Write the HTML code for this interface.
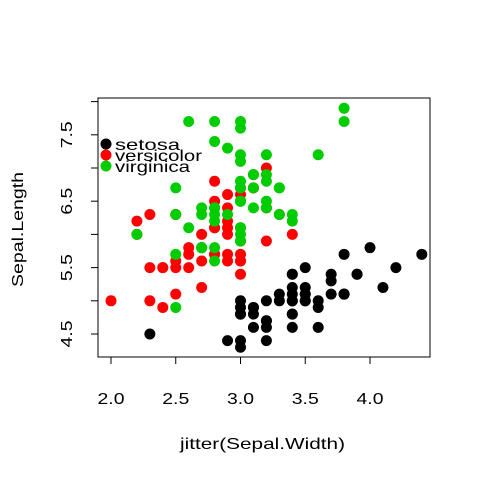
<!DOCTYPE html>
<html><head><meta charset="utf-8"><style>
body{margin:0;background:#fff}
svg text{font-family:"Liberation Sans",Arial,sans-serif;font-size:16px;fill:#000}
</style></head><body>
<svg width="480" height="480" id="chart">
<rect x="98" y="98" width="332" height="259" fill="none" stroke="#000" stroke-width="1"/>
<g id="axes"></g><g id="pts"></g>
<text x="180" y="449" textLength="165" lengthAdjust="spacingAndGlyphs">jitter(Sepal.Width)</text>
<text transform="translate(23,287) rotate(-90)" textLength="115" lengthAdjust="spacingAndGlyphs">Sepal.Length</text>
<g id="legend"></g>
</svg>
<script>
const setosaSL=[5.1,4.9,4.7,4.6,5.0,5.4,4.6,5.0,4.4,4.9,5.4,4.8,4.8,4.3,5.8,5.7,5.4,5.1,5.7,5.1,5.4,5.1,4.6,5.1,4.8,5.0,5.0,5.2,5.2,4.7,4.8,5.4,5.2,5.5,4.9,5.0,5.5,4.9,4.4,5.1,5.0,4.5,4.4,5.0,5.1,4.8,5.1,4.6,5.3,5.0];
const setosaSW=[3.5,3.0,3.2,3.1,3.6,3.9,3.4,3.4,2.9,3.1,3.7,3.4,3.0,3.0,4.0,4.4,3.9,3.5,3.8,3.8,3.4,3.7,3.6,3.3,3.4,3.0,3.4,3.5,3.4,3.2,3.1,3.4,4.1,4.2,3.1,3.2,3.5,3.6,3.0,3.4,3.5,2.3,3.2,3.5,3.8,3.0,3.8,3.2,3.7,3.3];
const versiSL=[7.0,6.4,6.9,5.5,6.5,5.7,6.3,4.9,6.6,5.2,5.0,5.9,6.0,6.1,5.6,6.7,5.6,5.8,6.2,5.6,5.9,6.1,6.3,6.1,6.4,6.6,6.8,6.7,6.0,5.7,5.5,5.5,5.8,6.0,5.4,6.0,6.7,6.3,5.6,5.5,5.5,6.1,5.8,5.0,5.6,5.7,5.7,6.2,5.1,5.7];
const versiSW=[3.2,3.2,3.1,2.3,2.8,2.8,3.3,2.4,2.9,2.7,2.0,3.0,2.2,2.9,2.9,3.1,3.0,2.7,2.2,2.5,3.2,2.8,2.5,2.8,2.9,3.0,2.8,3.0,2.9,2.6,2.4,2.4,2.7,2.7,3.0,3.4,3.1,2.3,3.0,2.5,2.6,3.0,2.6,2.3,2.7,3.0,2.9,2.9,2.5,2.8];
const virgSL=[6.3,5.8,7.1,6.3,6.5,7.6,4.9,7.3,6.7,7.2,6.5,6.4,6.8,5.7,5.8,6.4,6.5,7.7,7.7,6.0,6.9,5.6,7.7,6.3,6.7,7.2,6.2,6.1,6.4,7.2,7.4,7.9,6.4,6.3,6.1,7.7,6.3,6.4,6.0,6.9,6.7,6.9,5.8,6.8,6.7,6.7,6.3,6.5,6.2,5.9];
const virgSW=[3.3,2.7,3.0,2.9,3.0,3.0,2.5,2.9,2.5,3.6,3.2,2.7,3.0,2.5,2.8,3.2,3.0,3.8,2.6,2.2,3.2,2.8,2.8,2.7,3.3,3.2,2.8,3.0,2.8,3.0,2.8,3.8,2.8,2.8,2.6,3.0,3.4,3.1,3.0,3.1,3.1,3.1,2.7,3.2,3.3,3.0,2.5,3.0,3.4,3.0];
const xTicks=[2.0,2.5,3.0,3.5,4.0];
const xTickLabels=["2.0","2.5","3.0","3.5","4.0"];
const yTicks=[4.5,5.0,5.5,6.0,6.5,7.0,7.5,8.0];
const yTickLabels=["4.5","","5.5","","6.5","","7.5",""];
const speciesNames=["setosa","versicolor","virginica"];
const legendWidths=[65,87,75];
const NS="http://www.w3.org/2000/svg";
const X=v=>111+(v-2)*129.5;
const Y=v=>334-(v-4.5)*66.4;
function mk(tag,attrs,parent){const e=document.createElementNS(NS,tag);for(const k in attrs)e.setAttribute(k,attrs[k]);parent.appendChild(e);return e;}
const ax=document.getElementById('axes');
xTicks.forEach((t,i)=>{
 const l=mk('line',{x1:X(t),x2:X(t),y1:357,y2:364,stroke:'#000'},ax);
 
 
 const tx=mk('text',{x:X(t)-13.5,y:404,textLength:27,lengthAdjust:'spacingAndGlyphs'},ax);tx.textContent=xTickLabels[i];
 
 
});
mk('line',{x1:X(2),x2:X(4),y1:357,y2:357,stroke:'#000'},ax);
yTicks.forEach((t,i)=>{
 const l=mk('line',{x1:91,x2:98,y1:Y(t),y2:Y(t),stroke:'#000'},ax);
 
 
 if(yTickLabels[i]){const tx=mk('text',{transform:`translate(72,${Y(t)+13.5}) rotate(-90)`,textLength:27,lengthAdjust:'spacingAndGlyphs'},ax);tx.textContent=yTickLabels[i];
 
 }
});
mk('line',{x1:98,x2:98,y1:Y(4.5),y2:Y(8.0),stroke:'#000'},ax);
const pg=document.getElementById('pts');
const groups=[[setosaSW,setosaSL,'#000'],[versiSW,versiSL,'#ff0000'],[virgSW,virgSL,'#00cd00']];
groups.forEach((g,gi)=>{g[0].forEach((w,i)=>{
 const c=mk('circle',{cx:X(w),cy:Y(g[1][i]),r:5.5,fill:g[2]},pg);
 
 
});});
const lg=document.getElementById('legend');
speciesNames.forEach((n,i)=>{
 const c=mk('circle',{cx:106,cy:144+i*11,r:5.5,fill:groups[i][2]},lg);
 
 
 const t=mk('text',{x:115,y:150+i*11,textLength:legendWidths[i],lengthAdjust:'spacingAndGlyphs'},lg);t.textContent=n;
 
 
});
</script>
</body></html>
